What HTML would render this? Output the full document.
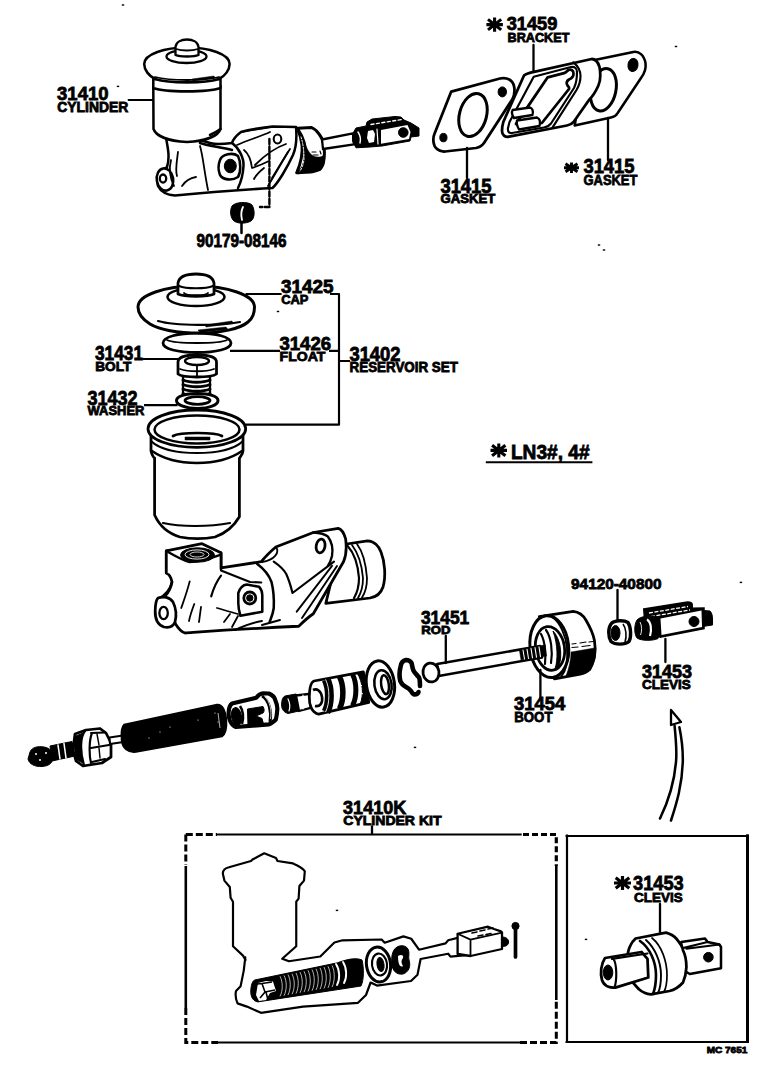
<!DOCTYPE html>
<html><head><meta charset="utf-8"><style>
html,body{margin:0;padding:0;background:#fff;width:768px;height:1086px;overflow:hidden}
svg{display:block}
text{font-family:"Liberation Sans",sans-serif;font-weight:bold;fill:#000;stroke:#000;stroke-width:0.8}
.km path{stroke:#000;fill:none;stroke-linecap:butt}
.km circle{fill:#000}
</style></head><body>
<svg width="768" height="1086" viewBox="0 0 768 1086">
<!-- p01_topcyl.svg -->
<g id="topcyl">
<!-- body -->
<path fill="#fff" stroke="#000" stroke-width="2.53" stroke-linejoin="round" stroke-linecap="round" d="M166,138 C168,148 170,158 167,167 C160,171 156,178 158,186 C161,192 168,195 175,195.5 C190,194 220,191 272.5,188 C278,183 287,168 293,155 C296,148 297,138 296,127 L272.5,126.5 C260,128 248,130 241,132 C237,135 233,140 232,143 C225,144 216,145 210,143 L200,140 Z"/>
<!-- port boss -->
<ellipse fill="#fff" stroke="#000" stroke-width="2.53" stroke-linejoin="round" stroke-linecap="round" cx="165" cy="179.5" rx="8.2" ry="11.2" transform="rotate(-10 165 179.5)"/>
<ellipse fill="none" stroke="#000" stroke-linejoin="round" stroke-linecap="round" cx="163" cy="178.5" rx="3.2" ry="4" stroke-width="2.30"/>
<!-- body inner lines -->
<path fill="none" stroke="#000" stroke-width="1.80" stroke-linejoin="round" stroke-linecap="round" d="M171,160 C169,168 170,178 174,186"/>
<path fill="none" stroke="#000" stroke-width="1.80" stroke-linejoin="round" stroke-linecap="round" d="M178,152 C177,160 175,170 177,176"/>
<path fill="none" stroke="#000" stroke-width="1.80" stroke-linejoin="round" stroke-linecap="round" d="M182,186 C186,180 190,178 196,177"/>
<path fill="none" stroke="#000" stroke-width="1.80" stroke-linejoin="round" stroke-linecap="round" d="M200,146 C203,156 204,170 208,190"/>
<path fill="none" stroke="#000" stroke-width="2.53" stroke-linejoin="round" stroke-linecap="round" d="M200,143 C208,146 222,147 232,150"/>
<!-- boss with dark hole -->
<path fill="#fff" stroke="#000" stroke-width="2.53" stroke-linejoin="round" stroke-linecap="round" d="M220,160 C222,154 233,152 238,156 C241,162 241,172 238,177 C232,181 223,180 220,175 C218,170 218,165 220,160 Z"/>
<ellipse fill="#000" stroke="#000" stroke-width="1" cx="230.3" cy="166" rx="6" ry="6.8"/>
<!-- flange left face -->
<path fill="none" stroke="#000" stroke-width="2.53" stroke-linejoin="round" stroke-linecap="round" d="M232,143 C239,148 244,158 243.5,166 C243,175 241,182 238,188"/>
<path fill="none" stroke="#000" stroke-width="1.80" stroke-linejoin="round" stroke-linecap="round" d="M241,132 C250,131 262,128 272,127"/>
<path fill="none" stroke="#000" stroke-width="1.80" stroke-linejoin="round" stroke-linecap="round" d="M237,145 C248,140 262,136 270,132"/>
<path fill="none" stroke="#000" stroke-width="1.80" stroke-linejoin="round" stroke-linecap="round" d="M244,150 C249,154 251,160 252,168 C258,166 263,164 269,161"/>
<path fill="none" stroke="#000" stroke-width="1.80" stroke-linejoin="round" stroke-linecap="round" d="M254,179 C256,175 259,172 264,168"/>
<path fill="none" stroke="#000" stroke-width="1.80" stroke-linejoin="round" stroke-linecap="round" d="M272,178 C277,170 284,158 290,149"/>
<path fill="none" stroke="#000" stroke-width="1.80" stroke-linejoin="round" stroke-linecap="round" d="M268,186 C274,176 282,162 288,152"/>
<path fill="none" stroke="#000" stroke-width="1.80" stroke-linejoin="round" stroke-linecap="round" d="M255,165 C262,158 274,148 286,144"/>
<ellipse fill="none" stroke="#000" stroke-linejoin="round" stroke-linecap="round" cx="277.5" cy="139" rx="3.8" ry="4.5" stroke-width="2.07"/>
<!-- dashed line -->
<path fill="none" stroke="#000" stroke-linejoin="round" stroke-linecap="round" d="M269.4,139 L269.4,207 L260,207" stroke-width="2.40" stroke-dasharray="5,2.5"/>
<!-- boot -->
<path fill="#fff" stroke="#000" stroke-linejoin="round" stroke-linecap="round" d="M297.5,128.3 L311.6,127.5 C315,129 318,132 319.4,134.5 C322,138 323,141 323.3,142.3 C324.5,148 324.5,158 323.3,163.4 C322,167 320.5,169 319.4,169.7 C316,171 313,172 310.8,172 L296.7,172.8 C300,165 303,155 302,145 C301,138 299,132 297.5,128.3 Z" stroke-width="2.99"/>
<path fill="#000" stroke="#000" d="M301,135 C305,142 307,152 313,156 C318,158 322,157 324,155 C324.5,160 323.5,166 320,169 C316,171 310,172 300,172.5 C304,165 305,155 304,146 C303,141 302,138 301,135 Z" stroke-width="0.5"/>
<path fill="none" stroke="#000" stroke-linejoin="round" stroke-linecap="round" d="M298,130 C303,137 306,148 305.5,158 C305,165 302,170 298.5,172.5" stroke-width="3.45"/>
<path fill="none" stroke-linejoin="round" stroke-linecap="round" d="M301,137 C303,143 304,151 304,158 C304,163 302,168 300,171" stroke="#fff" stroke-width="0.96" stroke-dasharray="2,1.5"/>
<path fill="none" stroke-linejoin="round" stroke-linecap="round" d="M312,152 L316,152 M313,155 L318,155 M320,151 L321,154" stroke="#000" stroke-width="1.20"/>
<!-- rod -->
<path fill="#fff" stroke="#000" stroke-linejoin="round" stroke-linecap="round" d="M322,139.5 L353,133.3 L354,144.3 L323,149 Z" stroke-width="2.30"/>
<!-- clevis -->
<path fill="#000" stroke="#000" stroke-width="1" d="M352.5,134 L356,128 L366,126 L367,122 L372,119 L395,116.5 L401,117 L404,120 L411,123 L419,128 L419,136 L411,137 L410,141 L382,146 L370,147 L356,147.8 L352.5,141 Z"/>
<path fill="#fff" stroke="none" d="M381,130 L407.5,125 L410.5,132 L409,139 L381,143.7 Z"/>
<circle fill="#000" stroke="#000" stroke-width="1" cx="403.3" cy="132.5" r="4.8"/>
<path fill="none" stroke-linejoin="round" stroke-linecap="round" d="M371,124.5 L402,119.5" stroke="#fff" stroke-width="1.44" stroke-dasharray="3,2.5"/>
<path fill="none" stroke-linejoin="round" stroke-linecap="round" d="M358,132 C360,135 361,139 360,143" stroke="#fff" stroke-width="1.44"/>
<path fill="#fff" stroke="none" d="M368,131 L373,130 L375,134 L374,142 L369,143 L367,138 Z"/>
<path fill="none" stroke-linejoin="round" stroke-linecap="round" d="M377,129 L378,144" stroke="#fff" stroke-width="1.20"/>
<!-- reservoir -->
<path fill="#fff" stroke="#000" stroke-width="2.53" stroke-linejoin="round" stroke-linecap="round" d="M153.3,86 L153.5,129 C156,136 168,141 187,142 C206,141 218,136 220.5,129 L220.5,86 Z"/>
<path fill="none" stroke="#000" stroke-width="2.53" stroke-linejoin="round" stroke-linecap="round" d="M210,135 C214,133 218,131 220.5,129"/>
<path fill="#fff" stroke="#000" stroke-width="2.53" stroke-linejoin="round" stroke-linecap="round" d="M153.3,79 L153.3,88 C165,92.5 208,92.5 220.5,88 L220.5,79 Z"/>
<path fill="#fff" stroke="#000" stroke-width="2.53" stroke-linejoin="round" stroke-linecap="round" d="M144.2,64 C144.2,54 165,47.5 187,47.5 C209,47.5 229.6,54 229.6,64 C229.6,70 225,76 219,79 C205,83.5 169,83.5 155,79 C149,76 144.2,70 144.2,64 Z"/>
<path fill="none" stroke="#000" stroke-width="1.80" stroke-linejoin="round" stroke-linecap="round" d="M155,77 C170,81 205,81 219,77"/>
<path fill="#000" stroke="#000" d="M192,79 L214,76 L215,78 L193,81 Z" stroke-width="0.5"/>
<ellipse fill="#fff" stroke="#000" stroke-linejoin="round" stroke-linecap="round" cx="186.5" cy="56.5" rx="20" ry="6.5" stroke-width="2.30"/>
<path fill="#fff" stroke="#000" stroke-linejoin="round" stroke-linecap="round" d="M175.5,55 L175.5,47 C176,42 181,39.5 187,39.5 C193,39.5 198,42 198.5,47 L198.5,55 C194,57 180,57 175.5,55 Z" stroke-width="2.30"/>
<path fill="none" stroke="#000" stroke-width="1.80" stroke-linejoin="round" stroke-linecap="round" d="M176,49 C182,51 192,51 198,49"/>
<!-- leader -->
<path fill="none" stroke="#000" stroke-width="1.80" stroke-linejoin="round" stroke-linecap="round" d="M128.5,100 L153,100"/>
<!-- nut 90179 -->
<path fill="#000" stroke="#000" stroke-width="1" d="M232,206 C235,202 248,201 252,205 C255,210 255,218 251,221 C246,224 236,224 233,220 C230,216 230,210 232,206 Z"/>
<path fill="none" stroke-linejoin="round" stroke-linecap="round" d="M243,207 C241,211 241,216 242,220" stroke="#fff" stroke-width="1.80"/>
<path fill="none" stroke="#000" stroke-width="2.53" stroke-linejoin="round" stroke-linecap="round" d="M241.5,222 L241.5,233"/>
</g>

<!-- p02_gasket.svg -->
<g id="gaskets">
<!-- right gasket (behind) -->
<path fill="#fff" stroke="#000" stroke-width="2.53" stroke-linejoin="round" stroke-linecap="round" d="M585,62 L633.3,52 C639,51 644,55 645.5,63 C646.5,70 644,74 641,78 L617.7,113 C616,116 614,117 611,117.5 L574.7,125.5 Z"/>
<ellipse fill="none" stroke="#000" stroke-linejoin="round" stroke-linecap="round" cx="603.4" cy="89.8" rx="12.5" ry="21.5" transform="rotate(12 603.4 89.8)" stroke-width="2.99"/>
<ellipse fill="#000" stroke="#000" stroke-width="1" cx="633" cy="65" rx="5" ry="6.5" transform="rotate(10 633 65)"/>
<!-- bracket plate + collar -->
<path fill="#fff" stroke="#000" stroke-linejoin="round" stroke-linecap="round" d="M524,75.5 C527,73 530,72.5 534,71.8 L591.7,59 C595,59 598,62 599.5,67 C601,75 600,82 598.2,86 C595,93 592,97 589,100 L573.4,122.2 C572,124 570,125 567,125.5 L509,136.7 C505,137.5 502,135 502,131 C502,127 502.5,125 503.3,122 Z" stroke-width="2.76"/>
<path fill="none" stroke="#000" stroke-linejoin="round" stroke-linecap="round" d="M573.4,62.3 C578,66 580.5,70 580.5,76 C580.5,81 579.5,85 576.5,90 L552.6,127.4" stroke-width="2.16"/>
<path fill="none" stroke="#000" stroke-linejoin="round" stroke-linecap="round" d="M533.7,76.7 L571,67 C575,66.5 577,68.5 577,72 C577,79 576,84 574,88 L551,123.5 C549,126 547,127 544,127.5 L512,133 C509,133.5 507.5,131.5 508,128 L509.5,122 Z" stroke-width="2.16"/>
<path fill="none" stroke="#000" stroke-linejoin="round" stroke-linecap="round" d="M547.7,77.3 L564,73.2 C566,72.5 567,71 568.5,70 C571,69 573.5,70.5 573.5,73.5 C573.5,76.5 571.5,78.5 569,79.5 C566.5,81 566,83.5 567.5,85.5 C569,87 569.5,88 569,89 L541.9,123 L520,127 L516,124 L521,116 L527.8,106.6 Z" stroke-width="2.76"/>
<circle cx="570" cy="73.8" r="2.2" fill="#fff" stroke="none"/>
<path fill="#fff" stroke="#000" stroke-linejoin="round" stroke-linecap="round" d="M512.6,110 L530,107.5 C532.5,108.5 533.5,111 532.5,115 L514,118 C512,115 511.5,112 512.6,110 Z" stroke-width="2.30"/>
<path fill="#fff" stroke="#000" stroke-linejoin="round" stroke-linecap="round" d="M517,120.5 L537,117.5 C539.5,118.5 540.5,122 539.5,126 L519,129.5 C517,126 516.5,123 517,120.5 Z" stroke-width="2.30"/>
<!-- left gasket -->
<path fill="#fff" stroke="#000" stroke-linejoin="round" stroke-linecap="round" d="M451.25,91.6 L500,78.5 C507,77 513,80 514.2,87 C515,92 514,96 512.5,99 L484,143 C482,146 480,147 476,148 L445,151.5 C439,152 434,148 433.5,142 C433,138 433.5,136 434.5,133.75 Z" stroke-width="2.76"/>
<ellipse fill="none" stroke="#000" stroke-linejoin="round" stroke-linecap="round" cx="473" cy="115" rx="13.5" ry="22" transform="rotate(15 473 115)" stroke-width="2.99"/>
<ellipse fill="#000" stroke="#000" stroke-width="1" cx="502.3" cy="91.9" rx="4.2" ry="5"/>
<ellipse fill="#000" stroke="#000" stroke-width="1" cx="443.4" cy="137.6" rx="3.6" ry="4.2"/>
<!-- leaders -->
<path fill="none" stroke="#000" stroke-linejoin="round" stroke-linecap="round" d="M533.5,45 L533.5,71" stroke-width="2.30"/>
<path fill="none" stroke="#000" stroke-linejoin="round" stroke-linecap="round" d="M608,118 L608,160" stroke-width="2.30"/>
<path fill="none" stroke="#000" stroke-linejoin="round" stroke-linecap="round" d="M467,148 L467,178" stroke-width="2.30"/>
</g>

<!-- p03_reservoir.svg -->
<g id="reservoir">
<!-- leaders -->
<path fill="none" stroke="#000" stroke-linejoin="round" d="M245.6,294 L281.6,294 M330,294 L339,294 L339,424.7 L245.6,424.7 M230,350.8 L280,350.8 M329,350.8 L339,350.8 M339,361 L350,361 M142.5,359 L179,359 M144,405.2 L177.6,405.2" stroke-width="2.16" stroke-linecap="butt"/>
<!-- float -->
<path fill="#fff" stroke="#000" stroke-linejoin="round" stroke-linecap="round" d="M163,343 C163,337 178,333 197,333 C216,333 231,337 231,343 C231,349 216,352.5 197,352.5 C178,352.5 163,349 163,343 Z" stroke-width="2.76"/>
<path fill="none" stroke="#000" stroke-width="1.80" stroke-linejoin="round" stroke-linecap="round" d="M167,340 C175,344 219,344 227,340"/>
<!-- cap -->
<path fill="#fff" stroke="#000" stroke-linejoin="round" stroke-linecap="round" d="M138,307 C138,295 165,286 196,286 C227,286 254.5,295 254.5,307 C254.5,314 252,319 248,322 C240,329 220,333 200,333 C180,333 160,330 150,324 C142,319 138,313 138,307 Z" stroke-width="2.99"/>
<path fill="none" stroke="#000" stroke-linejoin="round" stroke-linecap="round" d="M158,321 C175,326 220,326 240,322" stroke-width="2.16"/>
<path fill="#000" stroke="#000" d="M198,330 L226,327 L228,329.5 L200,332.5 Z M205,325 L232,321 L233,323.5 L206,327 Z" stroke-width="0.5"/>
<ellipse fill="#fff" stroke="#000" stroke-linejoin="round" stroke-linecap="round" cx="196" cy="297" rx="28.5" ry="9" stroke-width="2.53"/>
<path fill="#fff" stroke="#000" stroke-linejoin="round" stroke-linecap="round" d="M178,294 L178,283 C179,277 186,274 196,274 C206,274 213,277 214,283 L214,294 C208,297 184,297 178,294 Z" stroke-width="2.76"/>
<path fill="none" stroke="#000" stroke-linejoin="round" stroke-linecap="round" d="M179,286 C186,289 206,289 213,286" stroke-width="1.92"/>
<path fill="none" stroke="#000" stroke-width="1.80" stroke-linejoin="round" stroke-linecap="round" d="M184,293 C186,296 206,296 208,293"/>
<!-- bolt -->
<path fill="#fff" stroke="#000" stroke-linejoin="round" stroke-linecap="round" d="M183,376 L183,397 C188,400 205,400 210,397 L210,376 Z" stroke-width="2.30"/>
<path fill="none" stroke="#000" stroke-linejoin="round" stroke-linecap="round" d="M183,380 C190,383 203,383 210,380 M183,384.5 C190,387.5 203,387.5 210,384.5 M183,389 C190,392 203,392 210,389 M183,393.5 C190,396.5 203,396.5 210,393.5" stroke-width="2.88"/>
<path fill="#fff" stroke="#000" stroke-linejoin="round" stroke-linecap="round" d="M178,362 C178,357 186,355 197,355 C208,355 216.5,357 216.5,362 L216.5,374 C211,378 183,378 178,374 Z" stroke-width="2.76"/>
<ellipse fill="none" stroke="#000" stroke-linejoin="round" stroke-linecap="round" cx="197" cy="361" rx="12" ry="4" stroke-width="2.30"/>
<path fill="none" stroke="#000" stroke-linejoin="round" stroke-linecap="round" d="M180,369 C188,372 206,372 214,369 M197,366 L197,376" stroke-width="1.80"/>
<!-- washer -->
<path fill="#fff" stroke="#000" stroke-linejoin="round" stroke-linecap="round" d="M176.5,400.5 C176.5,396 186,393.5 197.5,393.5 C209,393.5 218,396 218,400.5 C218,405 209,408.5 197.5,408.5 C186,408.5 176.5,405 176.5,400.5 Z" stroke-width="2.99"/>
<ellipse fill="none" stroke="#000" stroke-linejoin="round" stroke-linecap="round" cx="197.5" cy="400.5" rx="12.5" ry="3.8" stroke-width="2.76"/>
<!-- reservoir -->
<path fill="#fff" stroke="#000" stroke-linejoin="round" stroke-linecap="round" d="M151,434 L151,451 C152,455 153,457 154.6,458 L154.6,515 C160,527 170,534 180,537 C190,539 205,539 215,537 C226,533 234,526 239.4,516.7 L239.4,458 C241,456 243,454 243,451 L243,434 Z" stroke-width="2.76"/>
<path fill="#fff" stroke="#000" stroke-linejoin="round" stroke-linecap="round" d="M148,428.7 C148,418 170,410 196.8,410 C223.6,410 245.7,418 245.7,428.7 C245.7,439.4 223.6,447.4 196.8,447.4 C170,447.4 148,439.4 148,428.7 Z" stroke-width="2.76"/>
<ellipse fill="none" stroke="#000" stroke-linejoin="round" stroke-linecap="round" cx="197" cy="429.5" rx="42.5" ry="14" stroke-width="2.53"/>
<path fill="none" stroke="#000" stroke-linejoin="round" stroke-linecap="round" d="M173,436 C180,432 215,432 222,436" stroke-width="2.64"/>
<path fill="#000" stroke="#000" d="M185,437 L210,437 L210,440 L185,440 Z" stroke-width="0.5"/>
<path fill="none" stroke="#000" stroke-linejoin="round" stroke-linecap="round" d="M151,441 C160,450 180,453 197,453 C214,453 234,450 243,441" stroke-width="1.92"/>
<path fill="none" stroke="#000" stroke-linejoin="round" stroke-linecap="round" d="M152,451 C165,460 180,463 197,463 C214,463 229,460 242,451" stroke-width="2.53"/>
<path fill="none" stroke="#000" stroke-linejoin="round" stroke-linecap="round" d="M163,523 C180,527 210,527 230,523" stroke-width="2.16"/>
</g>

<!-- p04_cyl2.svg -->
<g id="cyl2">
<!-- boot -->
<path fill="#fff" stroke="#000" stroke-linejoin="round" stroke-linecap="round" d="M340,545 L367.5,540.8 C374,541 379,546 381,552 C385,562 386,577 383,587 C381,593 376,597 370,598 L325.8,603.3 Z" stroke-width="2.76"/>
<path fill="none" stroke="#000" stroke-linejoin="round" stroke-linecap="round" d="M347.7,546 C354,553 358,565 359,578 C359,586 357,593 354,598" stroke-width="2.16"/>
<path fill="none" stroke="#000" stroke-linejoin="round" stroke-linecap="round" d="M352,545 C358,553 362,566 363,578 C363,587 361,593 358,598" stroke-width="1.80"/>
<path fill="none" stroke="#000" stroke-linejoin="round" stroke-linecap="round" d="M357,544 C363,552 366,565 367,578 C367,587 365,593 362,597.5" stroke-width="1.80"/>
<!-- body main outline -->
<path fill="#fff" stroke="#000" stroke-linejoin="round" stroke-linecap="round" d="M166.3,551 L166.3,573 C169,574 171,577 172,582 C171,588 169,592 165,596 L175.4,623.75 C178,628 181,632 185,633 C200,632 240,629 298.75,626.25 C305,620 310,616 313.3,613.75 L343.5,561.7 C346,556 347,549 345.6,538.75 C344,533 341,529 338.3,528.3 L313.3,532.5 L275.8,547 C270,552 265,557 261.25,561.7 L221,567.8 L221,553 Z" stroke-width="2.76"/>
<!-- top boss -->
<path fill="#fff" stroke-width="2.53" stroke-linejoin="round" stroke-linecap="round" d="M166.3,550.8 L202,543.7 L221,552.8 L221,572 C212,574 200,575 190,575 L166.3,573 Z" stroke="none"/>
<path fill="none" stroke="#000" stroke-linejoin="round" stroke-linecap="round" d="M166.3,573 L166.3,550.8 L202,543.7 L221,552.8 L221,569" stroke-width="2.76"/>
<path fill="none" stroke="#000" stroke-linejoin="round" stroke-linecap="round" d="M166.3,551 C175,556 182,560 189,562 C200,562 212,558 221,554.7" stroke-width="2.30"/>
<ellipse fill="#000" stroke="#000" stroke-width="1" cx="197.5" cy="555" rx="17" ry="7.2"/>
<ellipse cx="197" cy="554.5" rx="12" ry="4.6" fill="none" stroke="#fff" stroke-width="0.9"/>
<ellipse cx="197" cy="554.5" rx="7" ry="2.5" fill="none" stroke="#fff" stroke-width="0.8"/>
<!-- interior lines -->
<path fill="none" stroke="#000" stroke-linejoin="round" stroke-linecap="round" d="M172,582 C170,590 166,595 158,599" stroke-width="2.40"/>
<path fill="none" stroke="#000" stroke-width="1.80" stroke-linejoin="round" stroke-linecap="round" d="M189.7,581.4 C187,592 184,600 181.25,608"/>
<path fill="none" stroke="#000" stroke-width="1.80" stroke-linejoin="round" stroke-linecap="round" d="M194.3,604 C192,610 190,616 189,621"/>
<path fill="none" stroke="#000" stroke-width="1.80" stroke-linejoin="round" stroke-linecap="round" d="M201,607 L199,622"/>
<path fill="none" stroke="#000" stroke-linejoin="round" stroke-linecap="round" d="M221,575.6 C216,582 213,590 211.2,596.4" stroke-width="2.16"/>
<path fill="none" stroke="#000" stroke-width="1.80" stroke-linejoin="round" stroke-linecap="round" d="M217,608 C224,610 230,612 238,614"/>
<path fill="none" stroke="#000" stroke-width="1.80" stroke-linejoin="round" stroke-linecap="round" d="M224,622 L230,614 M232,627 L238,616"/>
<path fill="none" stroke="#000" stroke-linejoin="round" stroke-linecap="round" d="M221,570.4 C230,574 240,578 250,582 L261.25,582.5" stroke-width="2.16"/>
<!-- port boss -->
<path fill="#fff" stroke="#000" stroke-linejoin="round" stroke-linecap="round" d="M158,598 C163,596 170,597 173,602 C176,608 176.5,616 175,622 C173,627 169,628 164,627 C158,625 155,619 155.2,611 C155.3,605 156,600 158,598 Z" stroke-width="2.76"/>
<ellipse fill="none" stroke="#000" stroke-linejoin="round" stroke-linecap="round" cx="163.6" cy="613" rx="4.2" ry="6.2" stroke-width="2.30"/>
<!-- boss with hole -->
<path fill="#fff" stroke="#000" stroke-linejoin="round" stroke-linecap="round" d="M238.3,593 C240,588 243,585 246.7,584.6 L259,586.7 C261,589 262.3,592 262.3,595 L262.3,611.7 L240.4,615.8 C239,611 238.3,607 238.3,603.3 Z" stroke-width="2.53"/>
<circle fill="none" stroke="#000" stroke-linejoin="round" stroke-linecap="round" cx="249.8" cy="598" r="6" stroke-width="2.76"/>
<circle fill="#000" stroke="#000" stroke-width="1" cx="249.8" cy="598" r="3.2"/>
<!-- flange -->
<path fill="none" stroke="#000" stroke-linejoin="round" stroke-linecap="round" d="M257,563.75 C264,569 269,575 271.5,582 C274,592 274,603 273.75,608 C273,614 271,618 269.6,622" stroke-width="2.53"/>
<path fill="none" stroke="#000" stroke-linejoin="round" stroke-linecap="round" d="M273.75,561.7 C280,566 284,570 286.25,574 C289,580 291,587 292.5,593 L334,561.7" stroke-width="2.16"/>
<path fill="none" stroke="#000" stroke-linejoin="round" stroke-linecap="round" d="M296.7,611.7 L332,565.8 M302,618 L337,566" stroke-width="1.92"/>
<path fill="none" stroke="#000" stroke-linejoin="round" stroke-linecap="round" d="M313.3,532.5 C320,533 326,535 328,536.7 C332,542 333,550 332,556 C331,560 330,563 328,565.8" stroke-width="2.40"/>
<path fill="none" stroke="#000" stroke-linejoin="round" stroke-linecap="round" d="M275.8,547 C280,552 275,560 262,562" stroke-width="1.80"/>
<ellipse fill="none" stroke="#000" stroke-linejoin="round" stroke-linecap="round" cx="320.6" cy="546" rx="4.4" ry="7" transform="rotate(10 320.6 546)" stroke-width="2.76"/>
<path fill="none" stroke="#000" stroke-linejoin="round" stroke-linecap="round" d="M235,630 C245,625 255,622 262,621 M262,625 L280,620" stroke-width="1.92"/>
</g>

<!-- p05_row.svg -->
<g id="row">
<!-- small end -->
<path fill="#000" stroke="#000" stroke-width="1" d="M30,752 C32,747 38,746 44,747 C50,748 53,752 53,757 C53,763 49,766 42,766.5 C35,767 29,764 28,759 Z"/>
<path fill="#000" stroke="#000" stroke-width="1" d="M50,746 L72,741.5 L75,756 L52,761 Z"/>
<path fill="none" stroke-linejoin="round" stroke-linecap="round" d="M58,745 L60,759 M64,743.5 L66,758" stroke="#fff" stroke-width="1.56"/>
<circle cx="36" cy="754" r="1" fill="#fff"/><circle cx="40" cy="760" r="1" fill="#fff"/><circle cx="46" cy="753" r="1" fill="#fff"/>
<!-- hex nut -->
<path fill="#fff" stroke="#000" stroke-linejoin="round" stroke-linecap="round" d="M75,734 L86,730 L100,728.5 L106,733 L111,743 L111,757 L102,763 L83,766 L76,761 L73,750 Z" stroke-width="2.76"/>
<path fill="#000" stroke="#000" stroke-width="1" d="M76,736 L83,733 C80,740 80,752 83,763 L77,760 C74,752 74,742 76,736 Z"/>
<path fill="none" stroke="#000" stroke-linejoin="round" stroke-linecap="round" d="M85,731 C80,737 80,752 84,765 M91,733 L105,732.5 M92,733 C89,740 89,755 91,763 M91,748 L109,745 M92,762 L105,759" stroke-width="2.16"/>
<path fill="none" stroke="#000" stroke-linejoin="round" stroke-linecap="round" d="M97,734 L99,745 M99,748 L100,758" stroke-width="1.44"/>
<!-- spring rod -->
<path fill="#fff" stroke="#000" stroke-linejoin="round" stroke-linecap="round" d="M109.5,737.5 L123,735.5 L123.5,742 L110,744 Z" stroke-width="2.07"/>
<!-- spring -->
<path fill="#000" stroke="#000" d="M124,724.5 L217,704.5 C223,704 226,712 226.5,720 C227,728 226,734 222,736.5 L136,752 C128,753 122,748 121.5,740 C121,733 121,727 124,724.5 Z" stroke-width="1.5"/>
<g fill="#fff"><circle cx="160" cy="732" r="0.6"/><circle cx="170" cy="727" r="0.6"/><circle cx="149" cy="738" r="0.6"/><circle cx="198" cy="720" r="0.6"/><circle cx="215" cy="713" r="0.6"/><circle cx="218" cy="722" r="0.6"/><path d="M218,713 L220,728" stroke="#fff" stroke-width="0.7"/></g>
<!-- spring seat cup -->
<path fill="#fff" stroke="#000" stroke-linejoin="round" stroke-linecap="round" d="M232,703.5 L256.25,697.8 C258,695.5 260,693.5 263,693.3 L268.75,693.5 C272,695 274.5,697 275,699.4 C277,704 277.5,707 277.3,709.5 C277,714 276.5,717 275.8,719.7 C273,722 271,724 268.75,724.4 L236,727 C231,725 228.5,719 228.6,713 C228.7,708 230,705 232,703.5 Z" stroke-width="4.14"/>
<ellipse fill="#000" stroke="#000" stroke-width="1" cx="236.5" cy="716.5" rx="5" ry="9" transform="rotate(-10 236.5 716.5)"/>
<path d="M240,706 C243,710 244,718 242,724" fill="none" stroke="#000" stroke-width="2.6"/>
<path fill="#000" stroke="#000" stroke-width="1" d="M247.5,709 L263,706.5 C264.5,709 264.5,711.5 263,713 L256,716 L262,718.5 L263.5,724 L248,726 Z"/>
<path d="M262,696 C269,700 272,712 270,722" fill="none" stroke="#000" stroke-width="3"/>
<path d="M264.5,696.5 C270,701 272,711 270.5,719" fill="none" stroke="#fff" stroke-width="0.8"/>
<!-- piston small end -->
<path fill="#000" stroke="#000" stroke-width="1" d="M285,696 L296,694 C300,696 301,705 299,711 L288,713.5 C283,712 281,708 281.7,703 C282,699 283,697 285,696 Z"/>
<path fill="#fff" stroke="#000" stroke-linejoin="round" stroke-linecap="round" d="M296,695.5 L310.6,693.75 L310.6,707.8 L299,711 Z" stroke-width="2.30"/>
<path fill="none" stroke-linejoin="round" stroke-linecap="round" d="M288,699 C290,703 290,708 289,711 M303,695 L303,709" stroke="#fff" stroke-width="1.20"/>
<!-- piston body -->
<path fill="#fff" stroke="#000" stroke-linejoin="round" stroke-linecap="round" d="M314,681 L363.3,671.8 L368.8,702.4 L318.7,714.2 C312,713 309,705 309.3,697 C309.5,688 311,682 314,681 Z" stroke-width="2.76"/>
<path d="M313,690 C317,688 321,691 322,697 C323,703 320,707 315,706" fill="none" stroke="#000" stroke-width="2.6"/>
<path d="M326.0,679.3 C330.5,687.8 330.5,703.5 326.0,712.0" fill="none" stroke="#000" stroke-width="9"/>
<path d="M325.5,679.4 C330.0,687.9 330.0,703.6 325.5,712.1" fill="none" stroke="#fff" stroke-width="0.9"/>
<path d="M339.5,676.7 C344.0,685.2 344.0,700.3 339.5,708.8" fill="none" stroke="#000" stroke-width="5.5"/>
<path d="M352.5,674.3 C357.0,682.8 357.0,697.2 352.5,705.7" fill="none" stroke="#000" stroke-width="5"/>
<path fill="#000" stroke="#000" stroke-width="1" d="M357,673.0 L363.3,671.8 C366,676 368,690 368.8,702.4 L360,704.5 C364,695 363,682 357,673.0 Z"/>
<path d="M360,684 L362,686 M361,693 L363,694 M359,699 L361,700" stroke="#fff" stroke-width="1"/>
<!-- seal -->
<ellipse fill="#fff" stroke="#000" stroke-linejoin="round" stroke-linecap="round" cx="380.4" cy="684" rx="14" ry="23.3" transform="rotate(-8 380.4 684)" stroke-width="2.99"/>
<ellipse fill="none" stroke="#000" stroke-linejoin="round" stroke-linecap="round" cx="383" cy="684.7" rx="8.6" ry="14.6" transform="rotate(-8 383 684.7)" stroke-width="2.53"/>
<ellipse fill="none" stroke="#000" stroke-linejoin="round" stroke-linecap="round" cx="385" cy="684.7" rx="3.8" ry="9.5" transform="rotate(-8 385 684.7)" stroke-width="2.53"/>
<!-- clip -->
<path fill="none" stroke="#000" stroke-linejoin="round" stroke-linecap="round" d="M420,686 C420,681 419.5,678 418.7,677 C416,674 414,672 413.6,670.8 C412,667 412,664 411.5,662.9 C410,660.5 408,660 406,660 C403,660.5 401,663 400.5,667 C399.5,671 399,676 400.3,681 C401.5,684 404,686 406,687 C408,688 410,689.5 411,691 C412,693 413,694 414,694.4 C416,694.5 418,693.5 418.5,692" stroke-width="4.60"/>
<!-- boot -->
<path fill="#fff" stroke="#000" stroke-linejoin="round" stroke-linecap="round" d="M539.3,616.7 L573.3,611.4 C579,612 583,615 586,620.2 C590,627 593,633 594.4,640.2 C595.5,646 595.5,652 594.4,657.7 C593,663 591.5,666 589.7,669.5 C587,672 584,673.5 580.3,674.1 L554.5,678.8 Z" stroke-width="2.76"/>
<path fill="#000" stroke="#000" d="M571,652 L594.5,648 C595.5,653 595,660 593,665 C591,670 587,672 582,673.5 L566,676 C569,668 571,660 571,652 Z" stroke-width="0.5"/>
<path fill="none" stroke="#000" stroke-linejoin="round" stroke-linecap="round" d="M572,644 L576,643.5 M580,643 L586,642 M589,642 L593,641.5 M572,647.5 L578,647 M582,646.5 L590,645.5" stroke-width="1.20"/>
<ellipse fill="#fff" stroke="#000" stroke-linejoin="round" stroke-linecap="round" cx="549.3" cy="646.6" rx="19.3" ry="31" transform="rotate(-6 549.3 646.6)" stroke-width="2.99"/>
<path fill="none" stroke="#000" stroke-linejoin="round" stroke-linecap="round" d="M552,617 C560,622 566,636 567,648 C568,660 566,671 561,677" stroke-width="1.92"/>
<ellipse fill="#fff" stroke="#000" stroke-linejoin="round" stroke-linecap="round" cx="550" cy="648.4" rx="14.5" ry="22" transform="rotate(-8 550 648.4)" stroke-width="2.76"/>
<path fill="#000" stroke="#000" d="M553,631 C560,638 562,652 560,662 C559,667 557,670 555,669 C558,660 558,645 553,631 Z" stroke-width="1"/>
<path fill="none" stroke="#000" stroke-linejoin="round" stroke-linecap="round" d="M546,630 C551,637 553,651 551,663 M541,634 C545,641 546,654 545,664" stroke-width="2.16"/>
<!-- rod -->
<path fill="#fff" stroke="#000" stroke-linejoin="round" stroke-linecap="round" d="M437.2,664 L540,646 L542,657.5 L438.7,676 Z" stroke-width="2.53"/>
<path fill="#000" stroke="#000" d="M519.4,650.3 L545.2,644.8 L546.5,656 L521,660 Z" stroke-width="0.5"/>
<path fill="none" stroke-linejoin="round" stroke-linecap="round" d="M523,650 L524.5,659 M527,649.2 L528.5,658.5 M531,648.4 L532.5,657.8 M535,647.6 L536.5,657.2 M539,646.8 L540.5,656.6" stroke="#fff" stroke-width="1.08"/>
<ellipse fill="#fff" stroke="#000" stroke-linejoin="round" stroke-linecap="round" cx="431" cy="672.5" rx="8" ry="9.5" transform="rotate(-10 431 672.5)" stroke-width="2.76"/>
<!-- leaders -->
<path fill="none" stroke="#000" stroke-linejoin="round" stroke-linecap="round" d="M445.8,636 L445.8,663 M540.4,670 L540.4,698 M617.5,590 L617.5,622.5 M665.4,639 L665.4,662" stroke-width="2.30"/>
<!-- nut -->
<path d="M611,624 C614,620 624,620 628,622.5 C631,627 631.5,637 629,641.5 C625,645 615,645 611,641.5 C608,637 608,628 611,624 Z" fill="#fff" stroke="#000" stroke-width="3.4"/>
<ellipse fill="#000" stroke="#000" stroke-width="1" cx="615.5" cy="633" rx="4.5" ry="7.5"/>
<path d="M623,624 C626,628 627,636 625,642" fill="none" stroke="#000" stroke-width="1.6"/>
<!-- clevis -->
<path fill="#000" stroke="#000" d="M643.75,609 L687.5,602 C690,602 692,603 692.2,604.4 L692.2,608.3 L704,608 L704,628.6 L660.2,637.2 L645,626 Z" stroke-width="1.5"/>
<path d="M649,613 L688,606.5 M651,616.5 L690,610" fill="none" stroke="#fff" stroke-width="1.3" stroke-dasharray="4,1.5"/>
<path d="M660.5,618.5 L701.5,610.5 L702,627 L661.5,635 Z" fill="#fff" stroke="none"/>
<circle fill="#000" stroke="#000" stroke-width="1" cx="694" cy="621.5" r="5"/>
<path fill="#000" stroke="#000" stroke-width="1" d="M704,610.6 L710,611 C712,613 712.5,616 712.5,619 L712.5,625 L704,626.3 Z"/>
<path fill="#000" stroke="#000" stroke-width="1" d="M637,620 C640,616 652,615 657,617 C660,621 660.5,634 658,638.5 C653,641 641,641 637,638 C634,634 634,625 637,620 Z"/>
<path d="M647,619.5 C651,622 652,630 650,636" fill="none" stroke="#fff" stroke-width="2.2"/>
<path d="M640,622 C642,625 642,632 640.5,635" fill="none" stroke="#fff" stroke-width="0.9"/>
<!-- arrow -->
<path fill="#fff" stroke="#000" stroke-linejoin="round" stroke-linecap="round" d="M671,710 L681,722 L671,725 Z" stroke-width="2.30"/>
<path fill="none" stroke="#000" stroke-linejoin="round" stroke-linecap="round" d="M674.6,726 C676,740 677,752 676,762 C674,785 668,802 660,818.5 M679.4,727.3 C682,740 683,752 682.8,762 C682,785 677,802 671,820.5" stroke-width="2.53"/>
</g>

<!-- p06_kit.svg -->
<g id="kit">
<!-- kit box -->
<path fill="none" stroke="#000" stroke-linejoin="round" stroke-linecap="round" d="M372,826.5 L372,834" stroke-width="2.30"/>
<path d="M217,834.5 L521.7,834.5" fill="none" stroke="#000" stroke-width="2"/>
<path d="M185.8,834.5 L217,834.5 M185.8,834.5 L185.8,865" fill="none" stroke="#000" stroke-width="3" stroke-dasharray="7,3"/>
<path d="M523,834.5 L556.3,834.5 L556.3,866" fill="none" stroke="#000" stroke-width="3.2" stroke-dasharray="6,3"/>
<path d="M185.8,866 L185.8,1008" fill="none" stroke="#000" stroke-width="2.6"/>
<path d="M185.8,1008 L185.8,1042.5 L218,1042.5" fill="none" stroke="#000" stroke-width="3" stroke-dasharray="7,3"/>
<path d="M218,1042.5 L520,1042.5" fill="none" stroke="#000" stroke-width="2"/>
<path d="M520,1042.5 L556.3,1042.5 L556.3,1000" fill="none" stroke="#000" stroke-width="3" stroke-dasharray="7,3"/>
<path d="M556.3,866 L556.3,1000" fill="none" stroke="#000" stroke-width="2.6"/>
<!-- reservoir outline -->
<path fill="none" stroke="#000" stroke-linejoin="round" stroke-linecap="round" d="M245.5,960 L243,955.6 L233,946.25 L233,901.7 L230.6,897.8 L229.8,887 L224.4,880.6 L222.8,873.6 C223,870 225,868 229,867.3 L251,861 L252.5,859.5 L264.2,853.3 L276,858 L277.5,861 L293,863.4 C299,866 303,868 304.8,871.25 L304,880.6 L299.4,886 L298.6,898.6 L296.25,901.7 L296.25,946.25 L282.2,958.75 L289,961.25 L320.3,956.5 L334.4,942.5 L342.5,940.3 L381.6,939.5 L384.7,942.7 L403.4,936.4 L411.25,938.75 L419,949.7 L445.6,943.4 L448.2,940.2 L457.6,937.9" stroke-width="2.18"/>
<path fill="none" stroke="#000" stroke-linejoin="round" stroke-linecap="round" d="M245.3,957.3 L243.75,970.6 L240.6,986.25 L236,991 C235,996 236,1000 237.5,1003.4 L246.9,1006.6 L261,1012.8 L303,1006.6 L358,1002.8 L366,995 L370.6,982.5 L377,985.6 L411,981 L417.5,974.7 L420.6,959 L448.2,953.7 L450.5,956.6 L469.3,954.8" stroke-width="2.18"/>
<!-- dark cylinder -->
<path fill="#000" stroke="#000" stroke-width="1" d="M254.7,980 L337.5,962.8 C345,960 355,957 362,960 C364,968 364,980 361,986 L257.8,1001.9 C252,1001 250,995 251,988 C251.5,984 252.5,981 254.7,980 Z"/>
<path d="M258,983 L266,981 L273,981.5 L276,991 L270,993 L266,1000 L259,1001 L256,995 Z" fill="#fff" stroke="none"/>
<path d="M257,984 L262,983.5 L265,992 L260,998 M262,983.5 L272,982 M265,992 L275,990 M266,992 L268,1000" fill="none" stroke="#000" stroke-width="1.6"/>
<path d="M280,976.2 C283,982.2 283,990.4 280,996.4 M284,975.4 C287,981.4 287,989.7 284,995.7 M288,974.6 C291,980.6 291,989.0 288,995.0 M292,973.8 C295,979.8 295,988.3 292,994.3 M296,972.9 C299,978.9 299,987.5 296,993.5 M300,972.1 C303,978.1 303,986.8 300,992.8 M304,971.3 C307,977.3 307,986.1 304,992.1 M308,970.4 C311,976.4 311,985.4 308,991.4 M312,969.6 C315,975.6 315,984.7 312,990.7 M316,968.8 C319,974.8 319,984.0 316,990.0 M320,967.9 C323,973.9 323,983.2 320,989.2 M324,967.1 C327,973.1 327,982.5 324,988.5 M328,966.3 C331,972.3 331,981.8 328,987.8 M332,965.4 C335,971.4 335,981.1 332,987.1" fill="none" stroke="#fff" stroke-width="0.7"/>
<path fill="none" stroke-linejoin="round" stroke-linecap="round" d="M336,964 C340,970 340,980 337,985 M343,962 C347,968 347,978 344,983" stroke="#fff" stroke-width="1.92"/>
<!-- seal ring -->
<ellipse fill="#fff" stroke="#000" stroke-linejoin="round" stroke-linecap="round" cx="378.5" cy="964.5" rx="12" ry="17.5" transform="rotate(-8 378.5 964.5)" stroke-width="2.99"/>
<ellipse fill="none" stroke="#000" stroke-linejoin="round" stroke-linecap="round" cx="379.5" cy="964.5" rx="7.5" ry="11" transform="rotate(-8 379.5 964.5)" stroke-width="2.07"/>
<ellipse fill="#000" stroke="#000" stroke-width="1" cx="380.5" cy="964.5" rx="3.5" ry="7" transform="rotate(-8 380.5 964.5)"/>
<!-- snap ring -->
<path fill="#000" stroke="#000" stroke-width="1" d="M394,950 C397,945 405,944 408,949 C410,953 408,957 409,960 C411,966 409,972 403,974 C397,975 392,971 391.7,963 C391.5,957 392,953 394,950 Z"/>
<path fill="#fff" stroke="none" d="M398,956 C401,954 404,955 403,958 C401,960 401,963 403,966 C400,968 398,964 398,956 Z"/>
<!-- clevis -->
<path fill="#fff" stroke="#000" stroke-linejoin="round" stroke-linecap="round" d="M457.6,933.75 L488,926.7 L494,929 L501,931.4 L502,932.6 L502,949 L470.5,956 L457.6,954 Z" stroke-width="2.30"/>
<path fill="none" stroke="#000" stroke-linejoin="round" stroke-linecap="round" d="M457.6,933.75 L470.5,939.6 L502,932.6 M470.5,939.6 L470.5,956" stroke-width="1.80"/>
<path fill="none" stroke="#000" stroke-linejoin="round" stroke-linecap="round" d="M472,933 L477,932 M480,931 L485,930 M488,929 L493,928 M478,936 L483,935 M486,934.5 L491,933.5" stroke-width="1.56"/>
<path fill="#000" stroke="#000" stroke-width="1" d="M502,937 C506,937 508.6,939 508.6,942 C508.6,945 506,946.6 502,946.6 Z"/>
<circle fill="#000" stroke="#000" stroke-width="1" cx="515.5" cy="926" r="3.6"/>
<path fill="none" stroke="#000" stroke-linejoin="round" stroke-linecap="round" d="M515.5,926 L515.5,957" stroke-width="3.68"/>
</g>
<g id="clevbox">
<path d="M567,834.5 L567,1043 M565.5,836 L749,836 M747.5,834.5 L747.5,1043 M565.5,1042 L749,1042" fill="none" stroke="#000" stroke-width="2.2"/><path d="M747.5,834.5 L747.5,1043" stroke="#000" stroke-width="3"/>
<path fill="none" stroke="#000" stroke-linejoin="round" stroke-linecap="round" d="M660,904 L660,932.4" stroke-width="2.30"/>
<!-- right clevis -->
<path fill="#fff" stroke="#000" stroke-linejoin="round" stroke-linecap="round" d="M681.3,942 L705,938.5 L707.6,942 L719.4,944.5 L721,947 L721,968.2 L689.8,974 L683,970 Z" stroke-width="2.53"/>
<path fill="none" stroke="#000" stroke-linejoin="round" stroke-linecap="round" d="M683,948 L707.6,942 M686.4,948.7 L719.4,944.5" stroke-width="1.92"/>
<circle fill="#000" stroke="#000" stroke-width="1" cx="708.4" cy="957.2" r="4.8"/>
<!-- boot ring -->
<path fill="#fff" stroke="#000" stroke-linejoin="round" stroke-linecap="round" d="M635.6,938.5 L666,932.6 C671,934 674,936 676.2,938.5 C680,943 683,948 683,950.4 C686,956 686.4,962 686.4,967.3 C686,974 685,978 683,982.5 C679,987 674,990 669.5,991 L650.9,994.4 C646,994 642,992 639,989.3 C634,984 630,980 628.9,975.8 C627.5,970 627,965 627.2,958.9 C627.5,954 628.5,949 630.5,945.3 C632,942 634,940 635.6,938.5 Z" stroke-width="2.76"/>
<path fill="none" stroke="#000" stroke-linejoin="round" stroke-linecap="round" d="M640,941 C650,948 656,962 656,975 C656,983 655,989 653,994" stroke-width="2.64"/>
<path fill="none" stroke="#000" stroke-linejoin="round" stroke-linecap="round" d="M646,940 C655,948 661,962 661,975 C661,983 660,989 658,993" stroke-width="1.92"/>
<path fill="none" stroke="#000" stroke-linejoin="round" stroke-linecap="round" d="M652,938 C662,946 667,962 667,975 C667,983 666,988 664,992" stroke-width="1.68"/>
<!-- left shaft -->
<path fill="#fff" stroke="#000" stroke-linejoin="round" stroke-linecap="round" d="M605,958 L641.5,952 L647.5,958.9 L648.3,977.5 L615.3,987.6 C610,988 604,986 602,980 C600,973 601,964 605,958 Z" stroke-width="2.76"/>
<path fill="none" stroke="#000" stroke-linejoin="round" stroke-linecap="round" d="M611.9,958.9 L647.5,953.5 M613.6,959 C617,965 617,980 614.5,987.6" stroke-width="2.16"/>
<ellipse fill="#000" stroke="#000" stroke-width="1" cx="608" cy="972.5" rx="4.8" ry="7.5"/>
</g>
<!-- scattered dots -->
<path d="M485.8,462.2 L592.4,462.2" stroke="#000" stroke-width="2" fill="none"/>
<rect x="121.8" y="4.3" width="2.4" height="1.4" fill="#000"/>
<rect x="674.8" y="45.8" width="2.4" height="1.4" fill="#000"/>
<rect x="597.8" y="244.3" width="2.4" height="1.4" fill="#000"/>
<rect x="602.8" y="249.3" width="2.4" height="1.4" fill="#000"/>
<rect x="276.8" y="310.8" width="2.4" height="1.4" fill="#000"/>
<rect x="739.7" y="581.7" width="2.4" height="1.4" fill="#000"/>
<rect x="413.8" y="746.7" width="2.4" height="1.4" fill="#000"/>
<rect x="335.8" y="909.7" width="2.4" height="1.4" fill="#000"/>
<rect x="584.8" y="938.7" width="2.4" height="1.4" fill="#000"/>
<rect x="116.8" y="85.7" width="2.4" height="1.4" fill="#000"/>


<g id="labels">
<text x="57.1" y="100.0" font-size="18.90" textLength="51.4" lengthAdjust="spacingAndGlyphs">31410</text>
<text x="57.3" y="111.7" font-size="14.10" textLength="71.1" lengthAdjust="spacingAndGlyphs">CYLINDER</text>
<text x="196.5" y="247.0" font-size="17.44" textLength="90.0" lengthAdjust="spacingAndGlyphs">90179-08146</text>
<text x="506.7" y="29.9" font-size="18.31" textLength="50.7" lengthAdjust="spacingAndGlyphs">31459</text>
<text x="507.6" y="42.2" font-size="12.79" textLength="61.8" lengthAdjust="spacingAndGlyphs">BRACKET</text>
<text x="440.4" y="193.0" font-size="20.35" textLength="51.2" lengthAdjust="spacingAndGlyphs">31415</text>
<text x="440.6" y="203.0" font-size="12.21" textLength="54.7" lengthAdjust="spacingAndGlyphs">GASKET</text>
<text x="583.4" y="173.0" font-size="20.35" textLength="51.2" lengthAdjust="spacingAndGlyphs">31415</text>
<text x="583.5" y="184.5" font-size="15.26" textLength="53.9" lengthAdjust="spacingAndGlyphs">GASKET</text>
<text x="281.1" y="293.4" font-size="18.02" textLength="52.5" lengthAdjust="spacingAndGlyphs">31425</text>
<text x="281.2" y="304.0" font-size="13.08" textLength="27.2" lengthAdjust="spacingAndGlyphs">CAP</text>
<text x="279.4" y="350.0" font-size="18.90" textLength="51.7" lengthAdjust="spacingAndGlyphs">31426</text>
<text x="279.6" y="360.6" font-size="12.50" textLength="45.8" lengthAdjust="spacingAndGlyphs">FLOAT</text>
<text x="349.4" y="360.6" font-size="20.35" textLength="51.2" lengthAdjust="spacingAndGlyphs">31402</text>
<text x="349.6" y="371.6" font-size="13.95" textLength="108.3" lengthAdjust="spacingAndGlyphs">RESERVOIR SET</text>
<text x="95.0" y="360.0" font-size="20.35" textLength="48.1" lengthAdjust="spacingAndGlyphs">31431</text>
<text x="95.2" y="370.7" font-size="13.37" textLength="36.2" lengthAdjust="spacingAndGlyphs">BOLT</text>
<text x="87.4" y="404.5" font-size="21.08" textLength="50.3" lengthAdjust="spacingAndGlyphs">31432</text>
<text x="87.6" y="415.0" font-size="13.08" textLength="56.8" lengthAdjust="spacingAndGlyphs">WASHER</text>
<text x="510.9" y="458.7" font-size="20.49" textLength="78.7" lengthAdjust="spacingAndGlyphs">LN3#, 4#</text>
<text x="571.1" y="589.0" font-size="14.90" textLength="90.4" lengthAdjust="spacingAndGlyphs">94120-40800</text>
<text x="420.9" y="624.4" font-size="18.75" textLength="48.4" lengthAdjust="spacingAndGlyphs">31451</text>
<text x="421.2" y="634.4" font-size="11.19" textLength="29.2" lengthAdjust="spacingAndGlyphs">ROD</text>
<text x="514.1" y="710.3" font-size="17.44" textLength="51.2" lengthAdjust="spacingAndGlyphs">31454</text>
<text x="514.2" y="721.8" font-size="14.53" textLength="38.3" lengthAdjust="spacingAndGlyphs">BOOT</text>
<text x="641.9" y="677.7" font-size="18.46" textLength="50.1" lengthAdjust="spacingAndGlyphs">31453</text>
<text x="642.1" y="689.0" font-size="13.08" textLength="48.7" lengthAdjust="spacingAndGlyphs">CLEVIS</text>
<text x="343.1" y="813.7" font-size="18.46" textLength="63.1" lengthAdjust="spacingAndGlyphs">31410K</text>
<text x="343.3" y="825.0" font-size="12.50" textLength="98.2" lengthAdjust="spacingAndGlyphs">CYLINDER KIT</text>
<text x="633.1" y="890.0" font-size="21.08" textLength="50.6" lengthAdjust="spacingAndGlyphs">31453</text>
<text x="634.1" y="901.8" font-size="13.37" textLength="48.7" lengthAdjust="spacingAndGlyphs">CLEVIS</text>
<text x="706.7" y="1053.0" font-size="9.45" textLength="40.6" lengthAdjust="spacingAndGlyphs">MC 7651</text>
<g class="km"><path d="M488.0,19.4L501.2,29.9M501.2,19.4L488.0,29.9M486.4,24.6L502.9,24.6M494.6,17.6L494.6,31.7" stroke-width="3.1"/></g>
<g class="km"><path d="M565.5,163.8L577.5,171.7M577.5,163.8L565.5,171.7M564.0,167.8L579.0,167.8M571.5,162.5L571.5,173.0" stroke-width="2.9"/></g>
<g class="km"><path d="M492.1,445.2L505.4,455.7M505.4,445.2L492.1,455.7M490.5,450.4L507.0,450.4M498.8,443.4L498.8,457.5" stroke-width="3.1"/></g>
<g class="km"><path d="M615.7,877.8L629.3,888.2M629.3,877.8L615.7,888.2M614.0,883.0L631.0,883.0M622.5,876.0L622.5,890.0" stroke-width="3.2"/></g>
</g>
</svg>
</body></html>
